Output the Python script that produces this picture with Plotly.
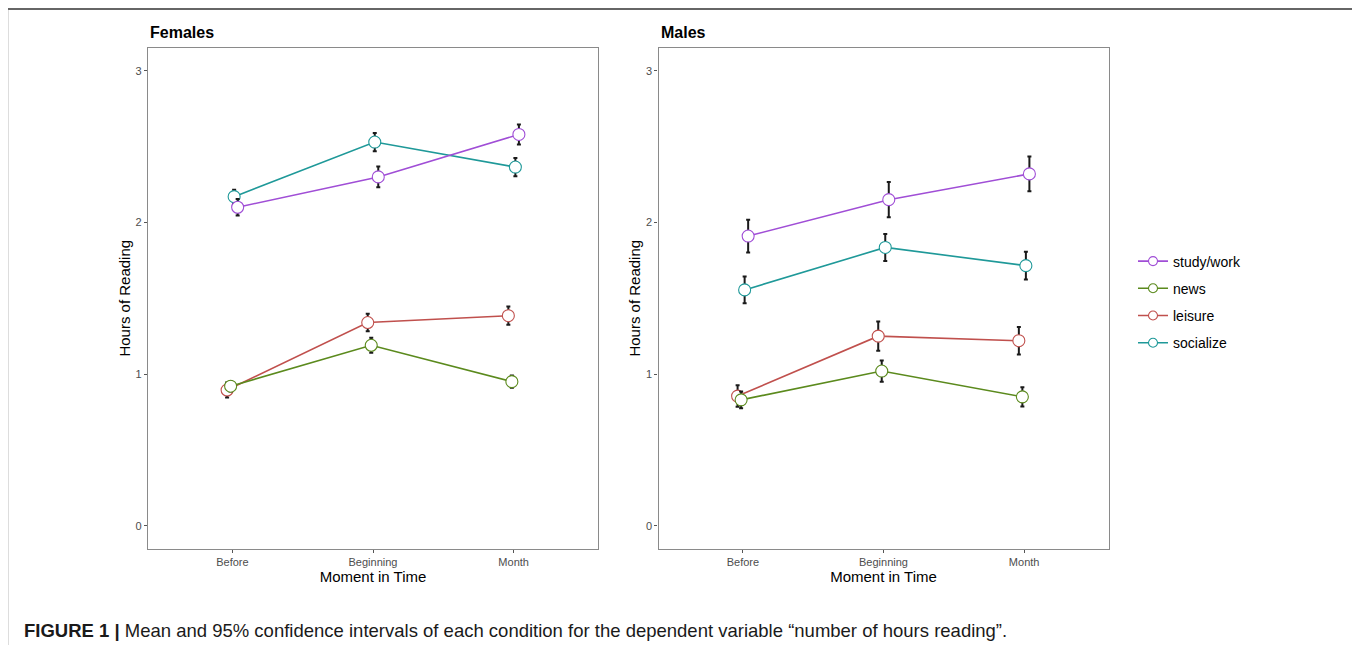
import plotly.graph_objects as go

W, H = 1360, 645
OFF = 8  # page body margin


def px(x):
    return (x - OFF) / W


def py(y):
    return 1 - (y - OFF) / H


moments = ["Before", "Beginning", "Month"]
series = ["study/work", "news", "leisure", "socialize"]
colors = {"study/work": "#A04ED6", "news": "#5B8A1D", "leisure": "#C0504D", "socialize": "#1F9999"}
dodge = {"leisure": -0.0375, "news": -0.0125, "socialize": 0.0125, "study/work": 0.0375}

# Females: means and 95% CI half-widths
fem_study = [2.10, 2.30, 2.58]
fem_news = [0.92, 1.19, 0.95]
fem_leisure = [0.895, 1.34, 1.385]
fem_social = [2.17, 2.53, 2.365]
fem_study_ci = [0.055, 0.068, 0.066]
fem_news_ci = [0.035, 0.05, 0.04]
fem_leisure_ci = [0.05, 0.058, 0.06]
fem_social_ci = [0.045, 0.06, 0.06]

# Males
mal_study = [1.91, 2.15, 2.32]
mal_news = [0.83, 1.02, 0.85]
mal_leisure = [0.855, 1.25, 1.22]
mal_social = [1.555, 1.835, 1.715]
mal_study_ci = [0.108, 0.116, 0.115]
mal_news_ci = [0.055, 0.07, 0.063]
mal_leisure_ci = [0.071, 0.096, 0.091]
mal_social_ci = [0.088, 0.089, 0.092]

panels = [
    ("x", "y", {"study/work": (fem_study, fem_study_ci), "news": (fem_news, fem_news_ci),
                "leisure": (fem_leisure, fem_leisure_ci), "socialize": (fem_social, fem_social_ci)}),
    ("x2", "y2", {"study/work": (mal_study, mal_study_ci), "news": (mal_news, mal_news_ci),
                  "leisure": (mal_leisure, mal_leisure_ci), "socialize": (mal_social, mal_social_ci)}),
]

fig = go.Figure()
draw_order = ["leisure", "news", "socialize", "study/work"]

# lines
for xa, ya, data in panels:
    for s in draw_order:
        vals, _ = data[s]
        xs = [i + dodge[s] for i in range(len(moments))]
        fig.add_trace(go.Scatter(x=xs, y=vals, xaxis=xa, yaxis=ya, mode="lines",
                                 line=dict(color=colors[s], width=1.6), showlegend=False,
                                 hoverinfo="skip"))
# error bars + points
for xa, ya, data in panels:
    for s in draw_order:
        vals, ci = data[s]
        xs = [i + dodge[s] for i in range(len(moments))]
        fig.add_trace(go.Scatter(x=xs, y=vals, xaxis=xa, yaxis=ya, mode="markers",
                                 marker=dict(size=12, color="white", line=dict(color=colors[s], width=1.1)),
                                 error_y=dict(type="data", array=ci, visible=True, color="#1a1a1a",
                                              thickness=2, width=2),
                                 showlegend=False, name=s))
# legend entries
for s in series:
    fig.add_trace(go.Scatter(x=[None], y=[None], mode="lines+markers", name=s, legendgroup=s,
                             line=dict(color=colors[s], width=1.6),
                             marker=dict(size=9, color="white", line=dict(color=colors[s], width=1.1))))

axis_common = dict(showgrid=False, zeroline=False, showline=True, mirror=True,
                   linecolor="#8a8a8a", linewidth=1.3, ticks="outside", ticklen=3,
                   tickcolor="#555555", tickfont=dict(family="Liberation Sans, Arial", size=11, color="#4D4D4D"))

xdom1 = [px(148), px(598)]
xdom2 = [px(658.5), px(1108.5)]
ydom = [py(548.5), py(48)]

xt = dict(tickvals=[0, 1, 2], ticktext=moments, range=[-0.6, 2.6],
          title=dict(text="Moment in Time", standoff=0,
                     font=dict(family="Liberation Sans, Arial", size=15, color="black")))
yt = dict(tickvals=[0, 1, 2, 3], range=[-0.15, 3.15],
          title=dict(text="Hours of Reading", standoff=1,
                     font=dict(family="Liberation Sans, Arial", size=15, color="black")))

fig.update_layout(
    width=W, height=H, autosize=False,
    margin=dict(l=0, r=0, t=0, b=0),
    paper_bgcolor="white", plot_bgcolor="white",
    xaxis=dict(domain=xdom1, anchor="y", **xt, **axis_common),
    yaxis=dict(domain=ydom, anchor="x", **yt, **axis_common),
    xaxis2=dict(domain=xdom2, anchor="y2", **xt, **axis_common),
    yaxis2=dict(domain=ydom, anchor="x2", **yt, **axis_common),
    legend=dict(x=px(1133), y=py(302), xanchor="left", yanchor="middle",
                font=dict(family="Liberation Sans, Arial", size=14, color="black"),
                traceorder="grouped", tracegroupgap=6, bgcolor="rgba(0,0,0,0)"),
    showlegend=True,
)

fig.add_annotation(text="<b>Females</b>", x=px(148), y=py(32), xref="paper", yref="paper",
                   xanchor="left", yanchor="middle", showarrow=False,
                   font=dict(family="Liberation Sans, Arial", size=16, color="black"))
fig.add_annotation(text="<b>Males</b>", x=px(659), y=py(32), xref="paper", yref="paper",
                   xanchor="left", yanchor="middle", showarrow=False,
                   font=dict(family="Liberation Sans, Arial", size=16, color="black"))
fig.add_annotation(text="<b>FIGURE 1 |</b> Mean and 95% confidence intervals of each condition for the dependent variable \u201cnumber of hours reading\u201d.",
                   x=px(22), y=py(630), xref="paper", yref="paper",
                   xanchor="left", yanchor="middle", showarrow=False,
                   font=dict(family="Liberation Sans, Arial", size=18.5, color="#1a1a1a"))

# outer frame (top, left, right)
fig.add_shape(type="line", xref="paper", yref="paper", x0=px(7), x1=px(1356), y0=py(9), y1=py(9),
              line=dict(color="#333333", width=1.5))
fig.add_shape(type="line", xref="paper", yref="paper", x0=px(7.5), x1=px(7.5), y0=0, y1=py(9),
              line=dict(color="#777777", width=1.5))
fig.add_shape(type="line", xref="paper", yref="paper", x0=px(1355.5), x1=px(1355.5), y0=0, y1=py(9),
              line=dict(color="#777777", width=1.5))

fig.write_html("out.html")
